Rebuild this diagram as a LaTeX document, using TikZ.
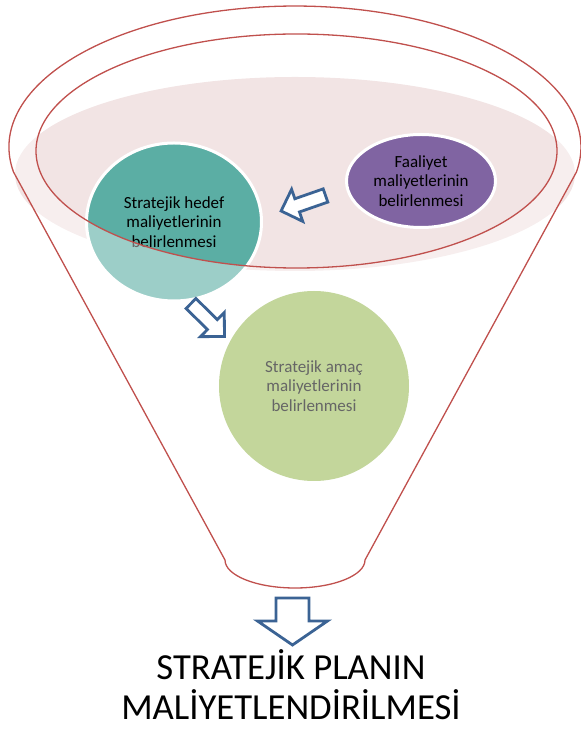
\documentclass[tikz,border=0pt]{standalone}
\usepackage{fontspec}
\setmainfont{Carlito}
\usetikzlibrary{shapes.geometric}
\definecolor{funred}{HTML}{C0504D}
\definecolor{mouthpink}{RGB}{242,228,228}
\definecolor{tealc}{RGB}{91,174,164}
\definecolor{purplec}{RGB}{128,100,162}
\definecolor{greenc}{RGB}{155,187,89}
\definecolor{arrowblue}{RGB}{59,99,148}
\begin{document}
\begin{tikzpicture}[x=1pt,y=1pt,
  circtext/.style={align=center, font=\fontsize{17}{19.3}\selectfont, text=black, inner sep=0pt},
  blockarr/.style={draw=arrowblue, line width=2.8pt, fill=white, line join=miter},
  funline/.style={draw=funred, line width=1.3pt},
  titletext/.style={font=\fontsize{36.7}{40}\selectfont, anchor=base, inner sep=0pt}]
\useasboundingbox (0,0) rectangle (581,731);
% mouth of the funnel
\fill[mouthpink] (295,557) ellipse [x radius=280, y radius=97];
% steps
\node[ellipse, draw=white, line width=3pt, fill=tealc, minimum width=175pt, minimum height=158pt, circtext] (hedef) at (174,509) {Stratejik hedef\\maliyetlerinin\\belirlenmesi};
\node[ellipse, draw=white, line width=3pt, fill=purplec, minimum width=149pt, minimum height=93pt, circtext] (faaliyet) at (421,550) {Faaliyet\\maliyetlerinin\\belirlenmesi};
\node[circle, fill=greenc, minimum size=190pt, circtext] (amac) at (314,345) {Stratejik amaç\\maliyetlerinin\\belirlenmesi};
% funnel body (translucent white)
\fill[white, fill opacity=0.4, even odd rule]
  (13.5,559) arc[start angle=190.2, end angle=-10.2, x radius=286, y radius=141]
  -- (365,171) arc[start angle=0, end angle=-180, x radius=70, y radius=28] -- cycle
  (296.5,580) ellipse [x radius=260.5, y radius=117];
\draw[funline, line join=round]
  (13.5,559) arc[start angle=190.2, end angle=-10.2, x radius=286, y radius=141]
  -- (365,171) arc[start angle=0, end angle=-180, x radius=70, y radius=28] -- cycle;
\draw[funline] (296.5,580) ellipse [x radius=260.5, y radius=117];
% block arrows
\coordinate (a1) at (325.5,535.5);
\coordinate (a2) at (191,427.5);
\coordinate (a3) at (292.5,133);
\begin{scope}[shift={(a1)}, rotate=199.2]
  \draw[blockarr] (0,-7) -- (30,-7) -- (30,-17) -- (47,0) -- (30,17) -- (30,7) -- (0,7) -- cycle;
\end{scope}
\begin{scope}[shift={(a2)}, rotate=-44.6]
  \draw[blockarr] (0,-7) -- (30,-7) -- (30,-17) -- (47,0) -- (30,17) -- (30,7) -- (0,7) -- cycle;
\end{scope}
\begin{scope}[shift={(a3)}, rotate=-90]
  \draw[blockarr] (0,-16.5) -- (23,-16.5) -- (23,-35) -- (47,0) -- (23,35) -- (23,16.5) -- (0,16.5) -- cycle;
\end{scope}
% result
\node[titletext] (title1) at (291,51) {STRATEJİK PLANIN};
\node[titletext] (title2) at (291,11) {MALİYETLENDİRİLMESİ};
\end{tikzpicture}
\end{document}
